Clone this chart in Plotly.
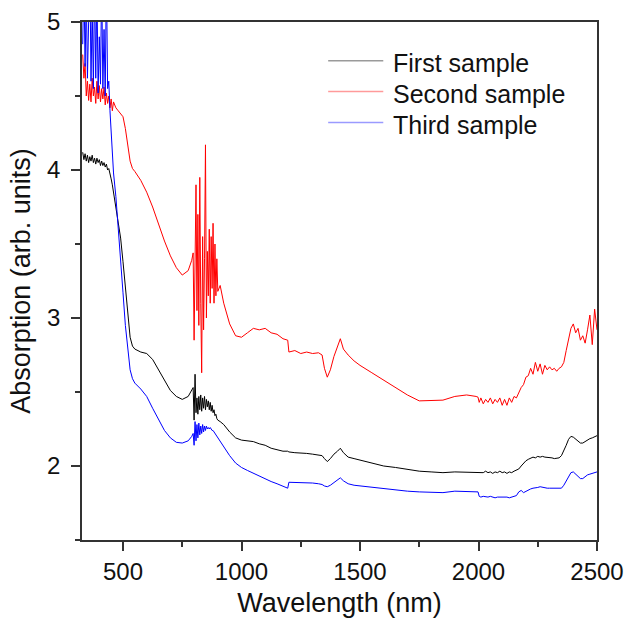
import plotly.graph_objects as go

# ---- data ----
wavelength_nm = [
    330, 335, 340, 345, 350, 355, 360, 365, 370, 375, 380, 385, 390, 395, 400,
    405, 410, 415, 420, 425, 430, 435, 440, 445, 450, 455, 460,
    470, 480, 490, 500, 510, 520, 530, 540, 550, 575, 600, 625, 650, 675, 700,
    725, 750, 775, 790,
    796, 800, 804, 808, 812, 816, 820, 824, 828, 832, 836, 840, 844, 848, 852,
    856, 860, 864, 868, 872, 876, 880, 884, 888, 892, 896, 900,
    910, 925, 950, 975, 1000, 1025, 1050, 1075, 1100, 1125, 1150, 1175, 1195,
    1200, 1225, 1250, 1275, 1300, 1325, 1340, 1350, 1362, 1375, 1390, 1405,
    1417, 1430, 1450, 1475, 1500, 1550, 1600, 1650, 1700, 1750, 1800, 1850, 1900,
    1950, 1990, 1998, 2003,
    2010, 2020, 2030, 2040, 2050, 2060, 2070, 2080, 2090, 2100, 2110, 2120, 2130, 2140, 2150,
    2160, 2170, 2180, 2190, 2200, 2210, 2220, 2230, 2240, 2250, 2260, 2270, 2280, 2290, 2300,
    2310, 2320, 2330, 2340, 2350, 2360, 2370, 2380, 2390, 2400,
    2410, 2420, 2430, 2440, 2450, 2460, 2470, 2480, 2490, 2500,
]

first_sample = [
    4.12, 4.07, 4.11, 4.06, 4.10, 4.05, 4.09, 4.06, 4.10, 4.05, 4.08, 4.04, 4.08, 4.05, 4.07,
    4.03, 4.06, 4.03, 4.05, 4.02, 4.04, 4.00, 4.01, 3.98, 3.94, 3.90, 3.85,
    3.76, 3.66, 3.54, 3.38, 3.20, 3.02, 2.87, 2.81, 2.79, 2.77, 2.76, 2.72, 2.65, 2.57, 2.51,
    2.47, 2.45, 2.47, 2.51,
    2.53, 2.31, 2.62, 2.36, 2.46, 2.35, 2.47, 2.38, 2.48, 2.37, 2.46, 2.39, 2.47, 2.38, 2.45,
    2.40, 2.44, 2.38, 2.43, 2.37, 2.41, 2.36, 2.38, 2.34, 2.35, 2.32, 2.31,
    2.30, 2.28, 2.23, 2.19, 2.175, 2.17, 2.165, 2.15, 2.14, 2.12, 2.11, 2.10, 2.10,
    2.095, 2.09, 2.09, 2.085, 2.08, 2.075, 2.07, 2.05, 2.03, 2.05, 2.08, 2.10,
    2.12, 2.09, 2.06, 2.05, 2.04, 2.02, 2.00, 1.99, 1.975, 1.965, 1.96, 1.955, 1.96,
    1.96, 1.955, 1.96, 1.955,
    1.96, 1.955, 1.965, 1.955, 1.96, 1.95, 1.96, 1.955, 1.965, 1.955, 1.96, 1.95, 1.96, 1.955, 1.965,
    1.97, 1.98, 2.00, 2.02, 2.035, 2.045, 2.05, 2.06, 2.055, 2.065, 2.06, 2.065, 2.06, 2.06, 2.055,
    2.055, 2.05, 2.05, 2.055, 2.07, 2.10, 2.14, 2.18, 2.20, 2.195,
    2.18, 2.165, 2.155, 2.155, 2.165, 2.18, 2.185, 2.19, 2.195, 2.205,
]

second_sample = [
    4.78, 4.62, 4.72, 4.50, 4.60, 4.47, 4.58, 4.46, 4.62, 4.50, 4.56, 4.45, 4.60, 4.48, 4.57,
    4.46, 4.55, 4.48, 4.56, 4.44, 4.52, 4.45, 4.50, 4.42, 4.48, 4.40, 4.46,
    4.42, 4.40, 4.38, 4.36, 4.28, 4.15, 4.06, 4.01, 3.99, 3.93, 3.85, 3.75, 3.63, 3.52, 3.42,
    3.34, 3.29, 3.32, 3.39,
    3.44, 2.85, 3.60, 3.90, 3.05, 3.70, 2.95, 3.95, 3.10, 2.63, 3.55, 2.92, 3.40, 4.17, 3.00,
    3.45, 3.15, 3.60, 3.10, 3.55, 3.20, 3.64, 3.10, 3.50, 3.15, 3.40, 3.18,
    3.22, 3.10, 2.96, 2.88, 2.87, 2.90, 2.93, 2.92, 2.93, 2.90, 2.89, 2.86, 2.85,
    2.77, 2.78, 2.76, 2.77, 2.76, 2.765, 2.75, 2.66, 2.60, 2.65, 2.74, 2.81,
    2.86, 2.79, 2.75, 2.71, 2.68, 2.63, 2.58, 2.53, 2.48, 2.44, 2.44, 2.445, 2.47,
    2.48, 2.47, 2.465, 2.43,
    2.46, 2.42, 2.45, 2.43, 2.46, 2.42, 2.45, 2.43, 2.46, 2.41, 2.45, 2.41, 2.46, 2.43, 2.47,
    2.46, 2.50, 2.53, 2.55, 2.60, 2.61, 2.66, 2.62, 2.70, 2.64, 2.69, 2.62, 2.68, 2.65, 2.67,
    2.65, 2.66, 2.64, 2.66, 2.67, 2.70, 2.78, 2.86, 2.93, 2.96,
    2.90, 2.93, 2.85, 2.88, 2.83, 2.92, 3.02, 2.82, 3.06, 2.92,
]

third_sample = [
    4.85, 5.30, 4.70, 5.20, 4.62, 4.95, 5.40, 4.60, 5.10, 4.55, 5.30, 4.62, 5.25, 4.52, 4.90,
    4.58, 5.30, 4.55, 4.95, 4.50, 5.35, 4.55, 4.60, 4.40, 4.25, 4.12, 3.98,
    3.82, 3.62, 3.40, 3.17, 2.95, 2.78, 2.65, 2.59, 2.56, 2.52, 2.47, 2.39, 2.31, 2.24, 2.19,
    2.16, 2.155, 2.17, 2.20,
    2.22, 2.14, 2.30, 2.17, 2.28, 2.19, 2.29, 2.21, 2.27, 2.22, 2.28, 2.23, 2.27, 2.24, 2.27,
    2.25, 2.26, 2.25, 2.26, 2.25, 2.24, 2.24, 2.23, 2.22, 2.21, 2.20, 2.19,
    2.17, 2.13, 2.07, 2.02, 1.99, 1.97, 1.95, 1.93, 1.91, 1.895, 1.88, 1.865, 1.85,
    1.89, 1.89, 1.885, 1.885, 1.885, 1.88, 1.875, 1.865, 1.86, 1.87, 1.89, 1.91,
    1.92, 1.90, 1.88, 1.87, 1.865, 1.855, 1.845, 1.835, 1.83, 1.825, 1.825, 1.82, 1.83,
    1.825, 1.825, 1.825, 1.795,
    1.79, 1.795, 1.79, 1.79, 1.795, 1.79, 1.785, 1.79, 1.79, 1.795, 1.79, 1.79, 1.785, 1.79, 1.795,
    1.80, 1.825, 1.835, 1.82, 1.83, 1.84, 1.845, 1.85, 1.85, 1.855, 1.86, 1.855, 1.855, 1.85, 1.85,
    1.85, 1.85, 1.845, 1.845, 1.85, 1.87, 1.90, 1.93, 1.955, 1.96,
    1.945, 1.925, 1.915, 1.915, 1.93, 1.94, 1.945, 1.95, 1.955, 1.96,
]

series_names = ["First sample", "Second sample", "Third sample"]
series_colors = ["#000000", "#ff0000", "#0000ff"]
legend_colors = ["#9a9a9a", "#ff9a9a", "#9a9aff"]

FONT = "Liberation Sans, Arial, sans-serif"
AXC = "#333333"

fig = go.Figure()
for name, vals, col in zip(series_names, [first_sample, second_sample, third_sample], series_colors):
    fig.add_trace(go.Scatter(x=wavelength_nm, y=vals, mode="lines", name=name,
                             line=dict(color=col, width=1), showlegend=False))

# legend drawn as line samples + text in paper coordinates
legend_rows_y = [0.925, 0.866, 0.806]
for name, lc, yy in zip(series_names, legend_colors, legend_rows_y):
    fig.add_shape(type="line", xref="paper", yref="paper",
                  x0=0.478, x1=0.585, y0=yy, y1=yy,
                  line=dict(color=lc, width=1.5))
    fig.add_annotation(xref="paper", yref="paper", x=0.600, y=yy - 0.005,
                       xanchor="left", yanchor="middle", showarrow=False,
                       text=name, font=dict(family=FONT, size=25, color="#111111"))

common = dict(showline=True, linecolor=AXC, linewidth=1.6, mirror=True,
              showgrid=False, zeroline=False, ticks="outside", ticklen=9,
              tickwidth=1.6, tickcolor=AXC, automargin=False,
              tickfont=dict(family=FONT, size=24, color="#111111"))

fig.update_layout(
    width=627, height=618,
    margin=dict(l=82, r=30, t=22, b=78),
    paper_bgcolor="white", plot_bgcolor="white",
    font=dict(family=FONT, color="#111111"),
    showlegend=False,
    xaxis=dict(range=[327, 2500], tick0=0, dtick=500,
               minor=dict(dtick=250, tick0=0, ticks="outside", ticklen=5,
                          tickwidth=1.6, tickcolor=AXC),
               title=dict(text="Wavelength (nm)", font=dict(family=FONT, size=27), standoff=10),
               **common),
    yaxis=dict(range=[1.5, 5], tick0=0, dtick=1, ticklabelstandoff=6,
               minor=dict(dtick=0.5, tick0=0, ticks="outside", ticklen=5,
                          tickwidth=1.6, tickcolor=AXC),
               title=dict(text="Absorption (arb. units)", font=dict(family=FONT, size=27), standoff=9),
               **common),
)

fig.write_html("out.html", config={"displayModeBar": False},
               post_script="document.body.style.margin='0px';")
